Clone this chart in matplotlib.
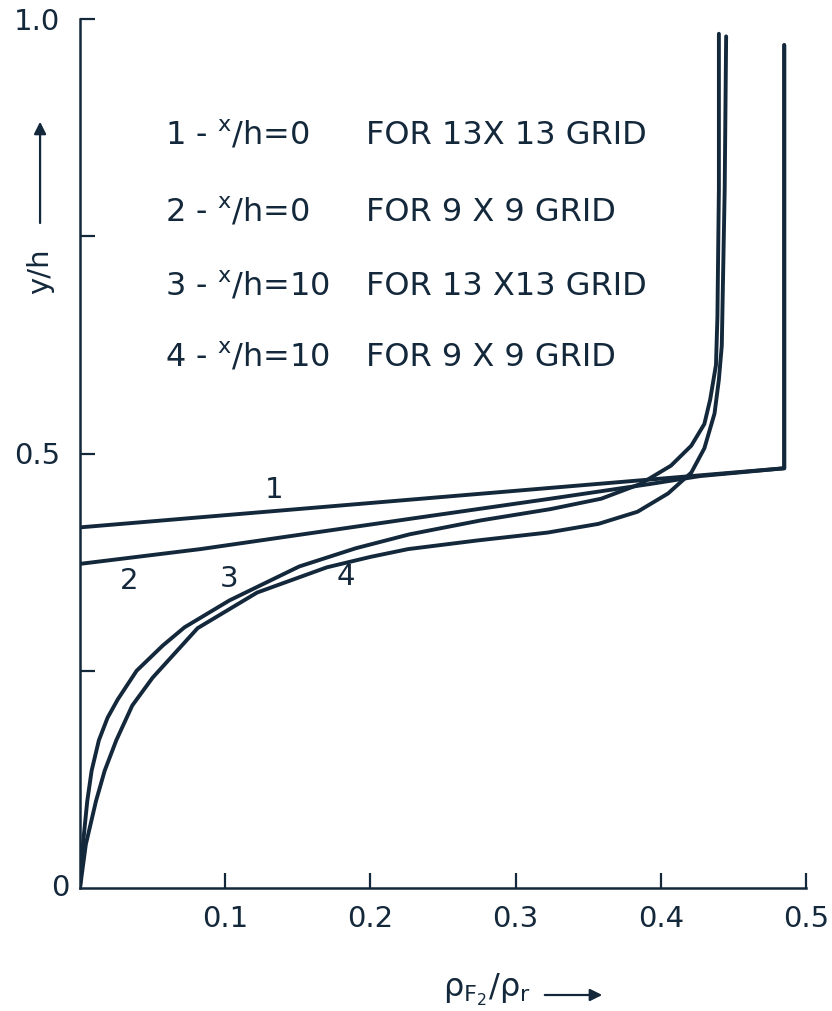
import matplotlib.pyplot as plt

plt.rcParams['font.family'] = 'DejaVu Sans'
plt.rcParams['mathtext.default'] = 'regular'

ink = '#14283b'

# concentration profiles, x = rho_F2/rho_r, y = y/h
x1 = [0.0, 0.485, 0.485]
y1 = [0.415, 0.483, 0.970]

x2 = [0.0, 0.083, 0.228, 0.324, 0.393, 0.427, 0.485, 0.485]
y2 = [0.373, 0.390, 0.425, 0.448, 0.465, 0.474, 0.483, 0.970]

x3 = [0.0, 0.002, 0.005, 0.008, 0.013, 0.019, 0.026, 0.039, 0.057, 0.072, 0.103, 0.151,
      0.190, 0.227, 0.276, 0.324, 0.359, 0.386, 0.407, 0.421, 0.430, 0.434, 0.438,
      0.439, 0.440, 0.440]
y3 = [0.0, 0.050, 0.100, 0.135, 0.170, 0.196, 0.217, 0.250, 0.279, 0.300, 0.331, 0.370,
      0.391, 0.407, 0.423, 0.436, 0.448, 0.465, 0.486, 0.509, 0.534, 0.562, 0.602,
      0.658, 0.804, 0.983]

x4 = [0.0, 0.004, 0.011, 0.017, 0.025, 0.036, 0.050, 0.081, 0.122, 0.170, 0.200, 0.226,
      0.274, 0.322, 0.357, 0.384, 0.405, 0.421, 0.430, 0.437, 0.440, 0.442, 0.444, 0.445]
y4 = [0.0, 0.050, 0.100, 0.135, 0.170, 0.210, 0.242, 0.299, 0.340, 0.369, 0.381, 0.390,
      0.400, 0.409, 0.419, 0.433, 0.454, 0.478, 0.506, 0.546, 0.585, 0.624, 0.804, 0.980]

legend_left = ['1 - $^{x}$/h=0', '2 - $^{x}$/h=0', '3 - $^{x}$/h=10', '4 - $^{x}$/h=10']
legend_right = ['FOR 13X 13 GRID', 'FOR 9 X 9 GRID', 'FOR 13 X13 GRID', 'FOR 9 X 9 GRID']
legend_y = [0.866, 0.777, 0.692, 0.611]

curve_labels = ['1', '2', '3', '4']
curve_label_x = [0.134, 0.034, 0.103, 0.183]
curve_label_y = [0.458, 0.353, 0.356, 0.358]

xticks = [0.1, 0.2, 0.3, 0.4, 0.5]
yticks = [0.25, 0.5, 0.75, 1.0]
ytick_labels = ['', '0.5', '', '1.0']

fig = plt.figure(figsize=(8.32, 10.11), dpi=100)
ax = fig.add_axes([80 / 832, 123 / 1011, 726 / 832, 869 / 1011])

for xs, ys in [(x1, y1), (x2, y2), (x3, y3), (x4, y4)]:
    ax.plot(xs, ys, color=ink, lw=2.8, solid_capstyle='round', solid_joinstyle='round')

ax.set_xlim(0, 0.5)
ax.set_ylim(0, 1.0)
for side in ['top', 'right']:
    ax.spines[side].set_visible(False)
for side in ['left', 'bottom']:
    ax.spines[side].set_color(ink)
    ax.spines[side].set_linewidth(1.8)

ax.set_xticks(xticks)
ax.set_xticklabels([str(t) for t in xticks])
ax.set_yticks(yticks)
ax.set_yticklabels(ytick_labels)
ax.tick_params(axis='both', direction='in', length=11, width=1.6, color=ink,
               labelcolor=ink, labelsize=21)
ax.tick_params(axis='x', pad=12)
ax.tick_params(axis='y', pad=14)
ax.text(-0.007, 0.0, '0', fontsize=21, color=ink, ha='right', va='center')

for lab, txt, yy in zip(legend_left, legend_right, legend_y):
    ax.text(0.0585, yy, lab, fontsize=23, color=ink, va='center', ha='left')
    ax.text(0.197, yy, txt, fontsize=23, color=ink, va='center', ha='left')

for lab, lx, ly in zip(curve_labels, curve_label_x, curve_label_y):
    ax.text(lx, ly, lab, fontsize=21, color=ink, ha='center', va='center')

# axis titles with arrows
ax.text(-0.055, 0.71, 'y/h', fontsize=21, color=ink, rotation=90,
        ha='center', va='center', transform=ax.transAxes)
ax.annotate('', xy=(-0.055, 0.885), xytext=(-0.055, 0.762), xycoords='axes fraction',
            arrowprops=dict(arrowstyle='-|>', color=ink, lw=1.6, mutation_scale=18))
fig.text(487 / 832, 1 - 990 / 1011, r'$\rho_{F_2}/\rho_r$', fontsize=23, color=ink,
         ha='center', va='center')
ax.annotate('', xy=(605 / 832, 1 - 995 / 1011), xytext=(542 / 832, 1 - 995 / 1011),
            xycoords='figure fraction',
            arrowprops=dict(arrowstyle='-|>', color=ink, lw=1.6, mutation_scale=18))

fig.savefig('out.png', dpi=100, facecolor='white')
